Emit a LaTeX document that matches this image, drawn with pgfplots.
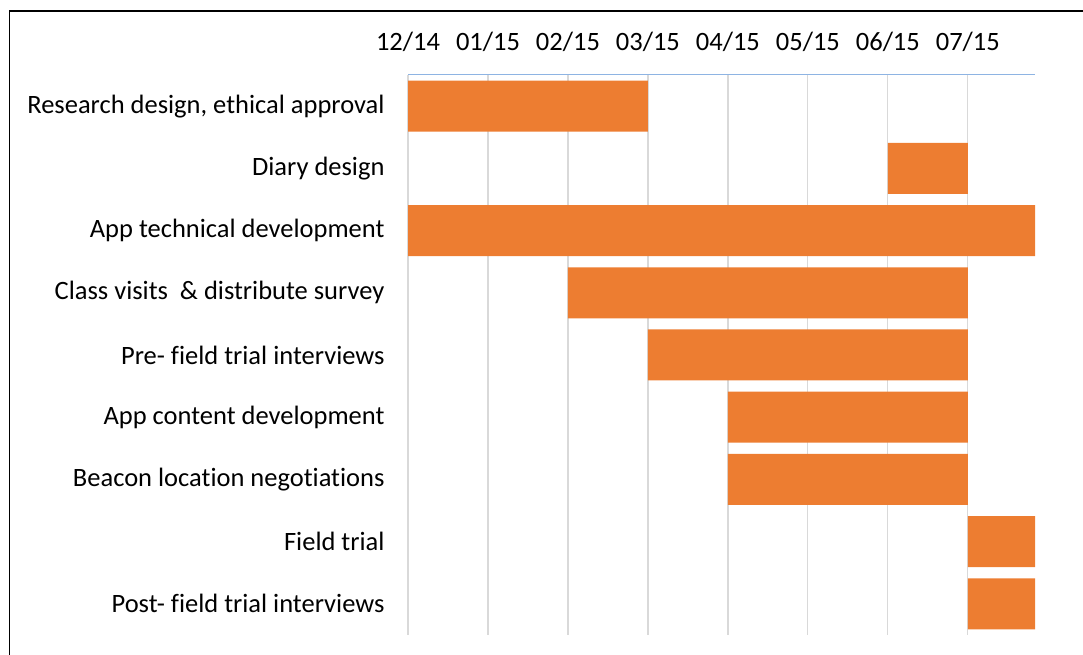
\documentclass[border=0pt]{standalone}
\usepackage{pgfplots}
\pgfplotsset{compat=1.18}
\usepackage{fontspec}
\setmainfont{Carlito}[Ligatures=NoCommon]
\definecolor{barorange}{HTML}{ED7D31}
\definecolor{gridgray}{HTML}{D9D9D9}
\definecolor{axisblue}{HTML}{8EB4E3}
\begin{document}
\begin{tikzpicture}[x=1bp,y=1bp]
\path[use as bounding box] (0,0) rectangle (1083,655);
\draw[line width=1.6bp] (9.5,0) -- (9.5,644) -- (1083,644);
\begin{axis}[
  at={(408bp,580bp)}, anchor=north west,
  scale only axis, width=627bp, height=560bp,
  xbar stacked, bar width=51bp,
  xmin=0, xmax=7.84, ymin=0.5, ymax=9.5, y dir=reverse,
  xtick={0,1,2,3,4,5,6,7},
  xticklabels={12/14,01/15,02/15,03/15,04/15,05/15,06/15,07/15},
  ytick={1,2,3,4,5,6,7,8,9},
  yticklabels={{Research design, ethical approval},Diary design,App technical development,Class visits\ \ \& distribute survey,Pre- field trial interviews,App content development,Beacon location negotiations,Field trial,Post- field trial interviews},
  xticklabel pos=top,
  axis line style={draw=none},
  xmajorgrids, major grid style={gridgray, line width=1.2bp},
  major tick length=0pt,
  ticklabel style={font=\fontsize{26.5bp}{30bp}\selectfont, text=black},
  yticklabel style={xshift=-20bp},
  xticklabel style={yshift=20bp},
]
\addplot[draw=none, fill=none] coordinates {(0,1) (6,2) (0,3) (2,4) (3,5) (4,6) (4,7) (7,8) (7,9)};
\addplot[draw=none, fill=barorange] coordinates {(3,1) (1,2) (7.84,3) (5,4) (4,5) (3,6) (3,7) (0.84,8) (0.84,9)};
\end{axis}
\draw[axisblue, line width=1bp] (408,580) -- (1035,580);
\end{tikzpicture}
\end{document}
